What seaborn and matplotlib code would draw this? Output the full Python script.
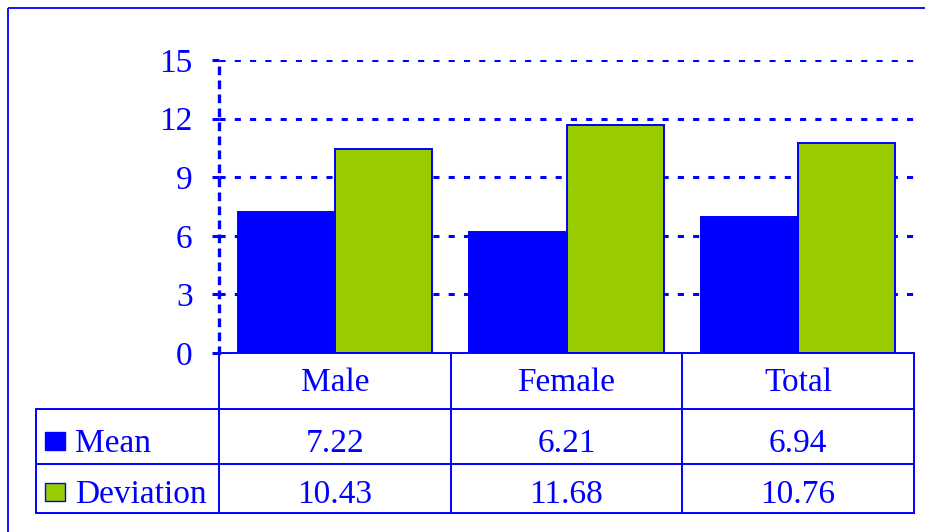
import numpy as np
import pandas as pd
import matplotlib
matplotlib.use("Agg")
import matplotlib.pyplot as plt
import seaborn as sns
from matplotlib.patches import Rectangle

# ---------------------------------------------------------------------------
# Data
# ---------------------------------------------------------------------------
categories = ["Male", "Female", "Total"]
series = ["Mean", "Deviation"]
mean_values = [7.22, 6.21, 6.94]
deviation_values = [10.43, 11.68, 10.76]
y_ticks = [0, 3, 6, 9, 12, 15]

colors = {"Mean": "#0000FF", "Deviation": "#99CC00"}
BLUE = "#0000FF"

df = pd.DataFrame({
    "category": categories * 2,
    "series": ["Mean"] * 3 + ["Deviation"] * 3,
    "value": mean_values + deviation_values,
})

sns.set_style("white")
plt.rcParams["font.family"] = ["Liberation Serif", "DejaVu Serif"]
FS = 24

W, H = 925, 532
fig = plt.figure(figsize=(W / 100, H / 100), dpi=100)

# pixel layout
ax_left, ax_right = 219, 914
ax_top, ax_bottom = 60, 353
row_edges = [353, 409, 464, 513]
text_baselines = [391, 452, 503]
label_left = 36

ax = fig.add_axes([ax_left / W, 1 - ax_bottom / H,
                   (ax_right - ax_left) / W, (ax_bottom - ax_top) / H])
sns.barplot(data=df, x="category", y="value", hue="series", order=categories,
            hue_order=series, palette=colors, width=0.84, gap=0,
            saturation=1, legend=False, ax=ax)
for cont in ax.containers:
    for bar in cont:
        bar.set_edgecolor(BLUE)
        bar.set_linewidth(1.4)

ax.set_xlim(-0.5, len(categories) - 0.5)
ax.set_ylim(0, 15)
ax.set_yticks(y_ticks)
ax.set_yticklabels([str(t) for t in y_ticks], fontsize=FS, color=BLUE)
ax.set_xticks([])
ax.set_xlabel("")
ax.set_ylabel("")
ax.tick_params(axis="y", direction="out", length=5, width=2.2, color=BLUE, pad=14, left=True)
for t in y_ticks[1:]:
    ax.axhline(t, color=BLUE, lw=2.2, ls=(0, (2.0, 3.0)), zorder=0)
for s in ["top", "right", "bottom"]:
    ax.spines[s].set_visible(False)
ax.spines["left"].set_color(BLUE)
ax.spines["left"].set_linewidth(2.4)
ax.spines["left"].set_linestyle((0, (1.6, 2.6)))

# ---------------------------------------------------------------------------
# Overlay: frame + data table
# ---------------------------------------------------------------------------
ov = fig.add_axes([0, 0, 1, 1], zorder=-1)
ov.set_xlim(0, W)
ov.set_ylim(H, 0)
ov.axis("off")
ov.add_patch(Rectangle((8, 8), W + 20, H + 20, fill=False, ec=BLUE, lw=1.3))

col_w = (ax_right - ax_left) / len(categories)
col_edges = [ax_left + i * col_w for i in range(len(categories) + 1)]

ov2 = fig.add_axes([0, 0, 1, 1], zorder=2)
ov2.set_xlim(0, W)
ov2.set_ylim(H, 0)
ov2.axis("off")
lw = 1.4
ov2.plot([ax_left, ax_right], [row_edges[0]] * 2, color=BLUE, lw=lw)
for y in row_edges[1:]:
    ov2.plot([label_left, ax_right], [y, y], color=BLUE, lw=lw)
ov2.plot([label_left, label_left], [row_edges[1], row_edges[-1]], color=BLUE, lw=lw)
for x in col_edges:
    ov2.plot([x, x], [row_edges[0], row_edges[-1]], color=BLUE, lw=lw)

for i, cat in enumerate(categories):
    cx = (col_edges[i] + col_edges[i + 1]) / 2
    ov2.text(cx, text_baselines[0], cat, ha="center", va="baseline",
             fontsize=FS, color=BLUE)
    ov2.text(cx, text_baselines[1], f"{mean_values[i]:.2f}",
             ha="center", va="baseline", fontsize=FS, color=BLUE)
    ov2.text(cx, text_baselines[2], f"{deviation_values[i]:.2f}",
             ha="center", va="baseline", fontsize=FS, color=BLUE)

for r, name in enumerate(series):
    base = text_baselines[r + 1]
    ov2.add_patch(Rectangle((45, base - 20), 20, 18, fc=colors[name], ec=BLUE, lw=1.0))
    ov2.text(75, base, name, ha="left", va="baseline", fontsize=FS, color=BLUE)

fig.savefig("out.png", dpi=100)
